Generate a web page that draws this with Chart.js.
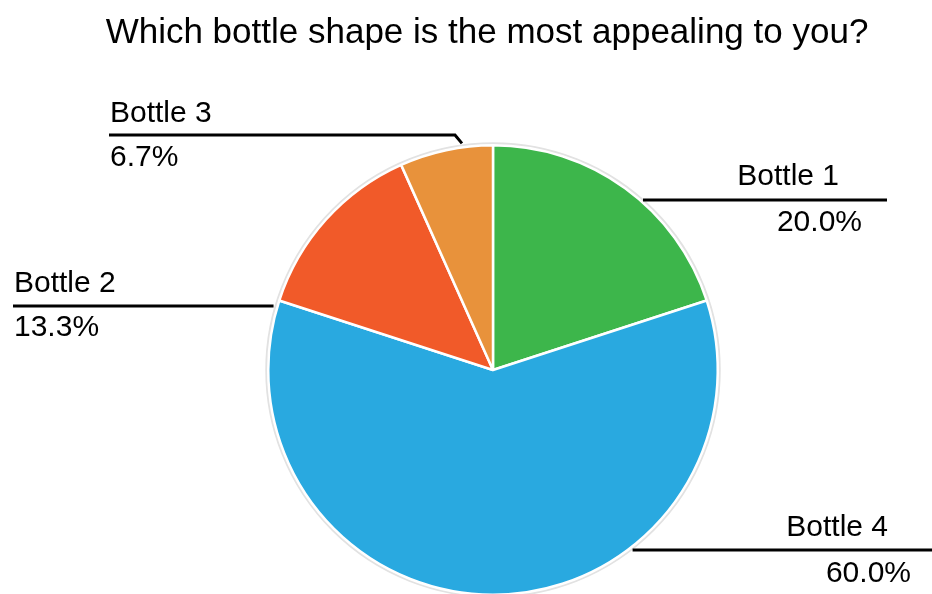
<!DOCTYPE html>
<html>
<head>
<meta charset="utf-8">
<title>Bottle shape survey</title>
<script src="https://cdn.jsdelivr.net/npm/chart.js@4/dist/chart.umd.min.js"></script>
<style>
  html, body { margin: 0; padding: 0; background: #ffffff; overflow: hidden; }
  #wrap { position: relative; width: 932px; height: 594px; overflow: hidden; }
  #pie { display: block; }
</style>
</head>
<body>
<div id="wrap"><canvas id="pie" width="932" height="600"></canvas></div>
<script>
// Survey answers, in clockwise order starting from 12 o'clock
const categories = ['Bottle 1', 'Bottle 4', 'Bottle 2', 'Bottle 3'];
const shares = [20.0, 60.0, 13.3, 6.7];
const sliceColors = ['#3db64b', '#29a9e0', '#f15a29', '#e8923b'];
const chartTitle = 'Which bottle shape is the most appealing to you?';

// Label placement for each slice (same order as categories)
// side: which side of the pie the leader runs to; lineY: height of the leader; gap: space left next to the rim
const labelLayout = [
  { side: 'right', lineY: 200, lineEnd: 887, gap: 3, nameX: 839, nameY: 185, nameAlign: 'right', pctX: 862, pctY: 231, pctAlign: 'right' },
  { side: 'right', lineY: 550, lineEnd: 940, gap: 5, nameX: 888, nameY: 536, nameAlign: 'right', pctX: 911, pctY: 582, pctAlign: 'right' },
  { side: 'left',  lineY: 306, lineEnd: 13,  gap: 4, nameX: 14,  nameY: 292, nameAlign: 'left',  pctX: 14,  pctY: 336, pctAlign: 'left' },
  { side: 'elbow', lineY: 135, lineEnd: 109, gap: 4, elbowX: 455, elbowAngle: 352.2, nameX: 110, nameY: 122, nameAlign: 'left', pctX: 110, pctY: 166, pctAlign: 'left' }
];

const LABEL_FONT = '30px "Liberation Sans", Arial, sans-serif';
const TITLE_FONT = '35px "Liberation Sans", Arial, sans-serif';

// faint grey rim around the pie
const rimPlugin = {
  id: 'rim',
  beforeDatasetsDraw(chart) {
    const arc = chart.getDatasetMeta(0).data[0];
    if (!arc) return;
    const { x, y, outerRadius } = arc.getProps(['x', 'y', 'outerRadius'], true);
    const ctx = chart.ctx;
    ctx.save();
    ctx.beginPath();
    ctx.arc(x, y, outerRadius + 1.5, 0, Math.PI * 2);
    ctx.strokeStyle = '#e2e2e2';
    ctx.lineWidth = 3;
    ctx.stroke();
    ctx.restore();
  }
};

// title, leader lines and slice labels
const labelPlugin = {
  id: 'sliceLabels',
  afterDatasetsDraw(chart) {
    const ctx = chart.ctx;
    const meta = chart.getDatasetMeta(0);
    const first = meta.data[0];
    const { x: cx, y: cy, outerRadius: r } = first.getProps(['x', 'y', 'outerRadius'], true);
    const total = shares.reduce((a, b) => a + b, 0);

    ctx.save();
    ctx.fillStyle = '#000000';
    ctx.textBaseline = 'alphabetic';
    ctx.font = TITLE_FONT;
    ctx.textAlign = 'center';
    ctx.fillText(chartTitle, 487, 43);

    ctx.strokeStyle = '#000000';
    ctx.lineWidth = 3;
    ctx.lineCap = 'butt';
    ctx.lineJoin = 'miter';
    ctx.font = LABEL_FONT;

    categories.forEach((name, i) => {
      const L = labelLayout[i];
      ctx.beginPath();
      if (L.side === 'elbow') {
        const a = L.elbowAngle * Math.PI / 180;
        const ex = cx + Math.sin(a) * (r + L.gap);
        const ey = cy - Math.cos(a) * (r + L.gap);
        ctx.moveTo(L.lineEnd, L.lineY);
        ctx.lineTo(L.elbowX, L.lineY);
        ctx.lineTo(ex, ey);
      } else {
        const dy = L.lineY - cy;
        const dx = Math.sqrt(Math.max(r * r - dy * dy, 0)) + L.gap;
        const startX = L.side === 'right' ? cx + dx : cx - dx;
        ctx.moveTo(startX, L.lineY);
        ctx.lineTo(L.lineEnd, L.lineY);
      }
      ctx.stroke();

      const pct = (shares[i] / total * 100).toFixed(1) + '%';
      ctx.textAlign = L.nameAlign;
      ctx.fillText(name, L.nameX, L.nameY);
      ctx.textAlign = L.pctAlign;
      ctx.fillText(pct, L.pctX, L.pctY);
    });
    ctx.restore();
  }
};

new Chart(document.getElementById('pie'), {
  type: 'pie',
  data: {
    labels: categories,
    datasets: [{
      data: shares,
      backgroundColor: sliceColors,
      borderColor: '#ffffff',
      borderWidth: 2.5,
      hoverOffset: 0
    }]
  },
  options: {
    responsive: false,
    animation: false,
    devicePixelRatio: 1,
    rotation: 0,
    layout: { padding: { left: 267, right: 213, top: 144, bottom: 4 } },
    plugins: {
      legend: { display: false },
      title: { display: false },
      tooltip: { enabled: false }
    },
    events: []
  },
  plugins: [rimPlugin, labelPlugin]
});
</script>
</body>
</html>
